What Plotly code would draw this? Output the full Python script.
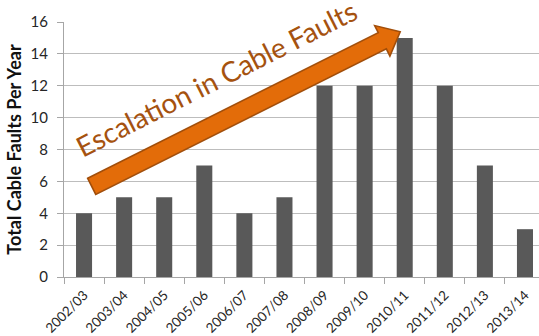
import math
import plotly.graph_objects as go

# Cable faults recorded per financial year
years = ["2002/03", "2003/04", "2004/05", "2005/06", "2006/07", "2007/08",
         "2008/09", "2009/10", "2010/11", "2011/12", "2012/13", "2013/14"]
faults = [4, 5, 5, 7, 4, 5, 12, 12, 15, 12, 7, 3]
y_ticks = [0, 2, 4, 6, 8, 10, 12, 14, 16]

W, H = 539, 336
ML, MR, MT, MB = 64, 0, 22, 59
PW, PH = W - ML - MR, H - MT - MB

FONT = "Lato"
BAR = "#595959"
GRID = "#BDBDBD"
AXIS = "#A6A6A6"
LABEL = "#262626"
ORANGE = "#E36C09"
ORANGE_EDGE = "#A24E0A"
TEXT_BROWN = "#A5520F"


def to_paper(px, py):
    """Pixel position inside the page -> paper coordinates."""
    return (px - ML) / PW, (H - MB - py) / PH


# Trend arrow geometry: tail centre, direction and local (u along, v across) frame
ang = math.radians(26.6)
tail = (91.7, 186.3)
d = (math.cos(ang), -math.sin(ang))
n = (math.sin(ang), math.cos(ang))


def local(u, v):
    px = tail[0] + u * d[0] + v * n[0]
    py = tail[1] + u * d[1] + v * n[1]
    return to_paper(px, py)


def path(points):
    pts = [local(u, v) for u, v in points]
    return "M " + " L ".join(f"{x:.5f},{y:.5f}" for x, y in pts) + " Z"


shaft_half, head_half, shaft_len, head_len = 9, 17, 325, 20
arrow_pts = [(0, -shaft_half), (shaft_len, -shaft_half), (shaft_len, -head_half),
             (shaft_len + head_len, 0), (shaft_len, head_half),
             (shaft_len, shaft_half), (0, shaft_half)]
label_box = [(0, -58), (326, -58), (326, -9), (0, -9)]

fig = go.Figure()
fig.add_trace(go.Bar(
    x=years, y=faults, width=0.4,
    marker=dict(color=BAR, line=dict(width=0)),
))

fig.add_shape(type="path", xref="paper", yref="paper", path=path(label_box),
              fillcolor="white", line=dict(width=0), layer="between")
fig.add_shape(type="path", xref="paper", yref="paper", path=path(arrow_pts),
              fillcolor=ORANGE, line=dict(color=ORANGE_EDGE, width=1.6), layer="above")

tx, ty = local(160, -41)
fig.add_annotation(
    xref="paper", yref="paper", x=tx, y=ty, xanchor="center", yanchor="middle",
    text="Escalation in Cable Faults", showarrow=False, textangle=-26.8,
    font=dict(family=FONT, size=28, color=TEXT_BROWN),
)

fig.update_layout(
    width=W, height=H,
    margin=dict(l=ML, r=MR, t=MT, b=MB, pad=0, autoexpand=False),
    paper_bgcolor="white", plot_bgcolor="white",
    showlegend=False,
    font=dict(family=FONT, color=LABEL),
)
fig.update_xaxes(
    type="category", range=[-0.5, 11.35], automargin=False,
    tickangle=-45, tickfont=dict(size=13.5, color=LABEL, family=FONT),
    ticklabelstandoff=4,
    showline=True, linecolor=AXIS, linewidth=1,
    ticks="outside", ticklen=6, tickcolor=AXIS, tickson="boundaries",
    showgrid=False,
)
fig.update_yaxes(
    range=[0, 16], tickvals=y_ticks, ticktext=[str(v) for v in y_ticks],
    automargin=False,
    tickfont=dict(size=15, color=LABEL, family=FONT),
    ticklabelstandoff=6,
    showline=True, linecolor=AXIS, linewidth=1,
    ticks="outside", ticklen=6, tickcolor=AXIS,
    showgrid=True, gridcolor=GRID, gridwidth=1, zeroline=False,
    title=dict(text="<b>Total Cable Faults Per Year</b>", standoff=4,
               font=dict(size=18, color="#111111", family=FONT)),
)

fig.write_html("out.html")
